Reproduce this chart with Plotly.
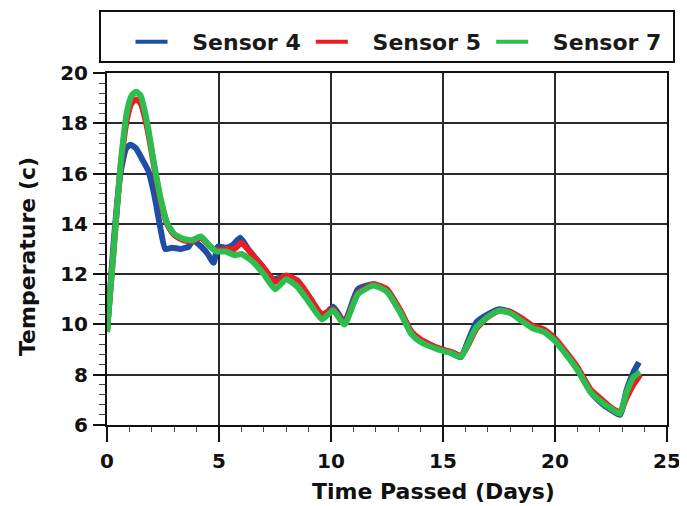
import plotly.graph_objects as go

# ---- data ----
time_days = [0, 0.3, 0.6, 0.9, 1.1, 1.3, 1.5, 1.8, 2.1, 2.4, 2.7, 3.0, 3.4, 3.8, 4.2, 4.6,
             4.9, 5.3, 5.7, 6.0, 6.5, 7.0, 7.5, 8.0, 8.5, 9.0, 9.6, 10.1, 10.6, 11.2, 11.9,
             12.5, 13.1, 13.6, 14.0, 14.8, 15.4, 15.8, 16.1, 16.5, 17.0, 17.5, 18.0, 18.5,
             19.0, 19.5, 20.0, 20.5, 21.0, 21.6, 22.1, 22.5, 22.9, 23.2, 23.5, 23.8]

sensor5 = [9.7, 13.0, 16.2, 18.2, 18.8, 18.95, 18.8, 17.8, 16.3, 14.9, 13.95, 13.55, 13.35,
           13.3, 13.45, 13.1, 12.95, 13.0, 13.0, 13.25, 12.75, 12.25, 11.7, 11.95, 11.75,
           11.15, 10.4, 10.6, 10.05, 11.25, 11.6, 11.4, 10.55, 9.7, 9.4, 9.05, 8.9, 8.75,
           9.15, 9.85, 10.3, 10.55, 10.5, 10.25, 9.95, 9.8, 9.45, 8.9, 8.3, 7.4, 7.0, 6.7,
           6.5, 7.1, 7.6, 8.0]

sensor7 = [9.7, 13.0, 16.3, 18.5, 19.1, 19.25, 19.1, 18.0, 16.4, 15.0, 14.0, 13.6, 13.4,
           13.35, 13.5, 13.1, 12.9, 12.9, 12.75, 12.8, 12.5, 12.0, 11.4, 11.8, 11.5, 10.9,
           10.2, 10.55, 10.0, 11.2, 11.55, 11.3, 10.45, 9.6, 9.3, 9.0, 8.85, 8.7, 9.2, 9.9,
           10.3, 10.55, 10.45, 10.15, 9.85, 9.7, 9.35, 8.8, 8.2, 7.3, 6.9, 6.65, 6.45, 7.3,
           7.9, 8.1]

time_days_s4 = [0, 0.3, 0.6, 0.85, 1.05, 1.3, 1.55, 1.85, 2.1, 2.35, 2.6, 2.9, 3.3, 3.65,
                3.85, 4.2, 4.5, 4.76, 4.95, 5.3, 5.6, 5.95, 6.3, 6.8, 7.4, 8.0, 8.5, 9.0,
                9.6, 10.1, 10.6, 11.2, 11.9, 12.5, 13.1, 13.6, 14.0, 14.8, 15.4, 15.8, 16.1,
                16.5, 17.0, 17.5, 18.0, 18.5, 19.0, 19.5, 20.0, 20.5, 21.0, 21.6, 22.1,
                22.5, 22.9, 23.2, 23.5, 23.75]

sensor4 = [9.7, 13.3, 16.0, 17.0, 17.15, 17.0, 16.6, 16.1, 15.2, 14.0, 13.0, 13.05, 13.0,
           13.1, 13.35, 13.1, 12.8, 12.45, 13.1, 13.05, 13.15, 13.45, 13.0, 12.45, 11.8,
           11.9, 11.55, 11.0, 10.3, 10.7, 10.1, 11.4, 11.6, 11.35, 10.5, 9.65, 9.35, 9.05,
           8.85, 8.7, 9.3, 10.1, 10.4, 10.6, 10.5, 10.2, 9.9, 9.75, 9.4, 8.85, 8.2, 7.3,
           6.85, 6.6, 6.4, 7.4, 8.1, 8.5]

series_names = ["Sensor 4", "Sensor 5", "Sensor 7"]
series_colors = ["#1f4ea6", "#ec1c24", "#2dbd4e"]
x_ticks = [0, 5, 10, 15, 20, 25]
y_ticks = [6, 8, 10, 12, 14, 16, 18, 20]

FONT = "DejaVu Sans"
PAD = "\u00a0\u00a0\u2009"

fig = go.Figure()
data_sets = [(time_days_s4, sensor4), (time_days, sensor5), (time_days, sensor7)]
for (xs, ys), name, col in zip(data_sets, series_names, series_colors):
    fig.add_trace(go.Scatter(x=xs, y=ys, name=name, mode="lines", showlegend=False,
                             line=dict(color=col, width=6, shape="spline", smoothing=0.5)))

# legend-only entries (thinner key lines), each in its own legend box for exact spacing
legend_ids = ["legend", "legend2", "legend3"]
legend_x = [0.042, 0.364, 0.686]
for name, col, lid in zip(series_names, series_colors, legend_ids):
    fig.add_trace(go.Scatter(x=[None], y=[None], name=PAD + name, mode="lines",
                             line=dict(color=col, width=4), legend=lid, showlegend=True))

legend_style = dict(orientation="h", xanchor="left", y=1.088, yanchor="middle",
                    bgcolor="rgba(0,0,0,0)", borderwidth=0, itemwidth=32,
                    font=dict(family=FONT, size=22, color="#1a1a1a", weight="bold"))

axis_common = dict(
    showline=True, linecolor="#111111", linewidth=2, mirror=True,
    showgrid=True, gridcolor="#2a2a2a", gridwidth=2, zeroline=False,
    ticks="outside", tickcolor="#111111", tickwidth=2,
    tickfont=dict(family=FONT, size=20, color="#111111", weight="bold"),
)

fig.update_xaxes(range=[0, 25], tickvals=x_ticks, ticklen=15, ticklabelstandoff=2,
                 minor=dict(dtick=1, ticks="outside", ticklen=5, tickcolor="#444444",
                            tickwidth=1, showgrid=False),
                 **axis_common)
fig.update_yaxes(range=[6, 20], tickvals=y_ticks, ticklen=12, ticklabelstandoff=1,
                 minor=dict(dtick=0.4, ticks="outside", ticklen=6, tickcolor="#444444",
                            tickwidth=1, showgrid=False),
                 **axis_common)

fig.update_layout(
    width=679, height=498,
    margin=dict(l=99, r=20, t=65, b=81, autoexpand=False),
    paper_bgcolor="white", plot_bgcolor="white",
    showlegend=True,
    legend=dict(x=legend_x[0], **legend_style),
    legend2=dict(x=legend_x[1], **legend_style),
    legend3=dict(x=legend_x[2], **legend_style),
    shapes=[dict(type="rect", xref="paper", yref="paper", x0=-0.0125, x1=1.0125,
                 y0=1.031, y1=1.176, line=dict(color="#111111", width=2),
                 fillcolor="rgba(0,0,0,0)")],
    annotations=[
        dict(text="Time Passed (Days)", xref="paper", yref="paper", x=0.583, y=-0.189,
             xanchor="center", yanchor="middle", showarrow=False,
             font=dict(family=FONT, size=22, color="#111111", weight="bold")),
        dict(text="Temperature (c)", xref="paper", yref="paper", x=-0.143, y=0.48,
             xanchor="center", yanchor="middle", showarrow=False, textangle=-90,
             font=dict(family=FONT, size=22, color="#111111", weight="bold")),
    ],
)

fig.write_html("out.html")
